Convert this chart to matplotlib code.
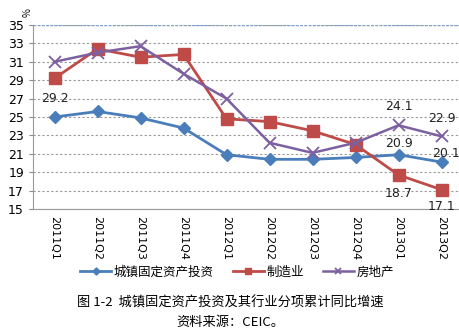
import matplotlib.pyplot as plt

plt.rcParams['font.family'] = ['Noto Sans CJK SC', 'DejaVu Sans']

quarters = ['2011Q1', '2011Q2', '2011Q3', '2011Q4', '2012Q1', '2012Q2',
            '2012Q3', '2012Q4', '2013Q1', '2013Q2']
fixed_asset = [25.0, 25.6, 24.9, 23.8, 20.9, 20.4, 20.4, 20.6, 20.9, 20.1]
manufacturing = [29.2, 32.4, 31.5, 31.8, 24.8, 24.5, 23.5, 22.0, 18.7, 17.1]
real_estate = [31.0, 32.0, 32.7, 29.7, 27.0, 22.2, 21.1, 22.2, 24.1, 22.9]
yticks = list(range(15, 36, 2))

fig = plt.figure(figsize=(4.6, 3.35), dpi=100)
ax = fig.add_axes([33 / 460, 1 - 209 / 335, 427 / 460, 184 / 335])

x = list(range(len(quarters)))
l1, = ax.plot(x, fixed_asset, color='#4A7EBB', lw=2, marker='D', ms=6,
              label='城镇固定资产投资')
l2, = ax.plot(x, manufacturing, color='#BE4B48', lw=2, marker='s', ms=8,
              label='制造业')
l3, = ax.plot(x, real_estate, color='#7D60A0', lw=1.8, marker='x', ms=8,
              mew=1.3, label='房地产')

ax.set_xlim(-0.5, 9.43)
ax.set_ylim(15, 35)
ax.set_yticks(yticks)
ax.set_xticks(x)
ax.set_xticklabels(quarters, rotation=-90, fontsize=8, family='DejaVu Sans')
ax.tick_params(axis='y', labelsize=9, length=3, color='#888888')
ax.tick_params(axis='x', length=0, pad=5)
for lab in ax.get_yticklabels():
    lab.set_family('DejaVu Sans')

ax.grid(axis='y', ls=(0, (2, 2)), color='#999999', lw=0.8)
ax.axhline(35, ls=(0, (2, 1)), color='#7FA2C8', lw=1)
for s in ['top', 'right']:
    ax.spines[s].set_visible(False)
ax.spines['left'].set_color('#999999')
ax.spines['bottom'].set_color('#999999')

# data labels
lab_kw = dict(fontsize=9, family='DejaVu Sans', ha='center', va='center', color='#222222')
ax.text(0, 27.0, '29.2', **lab_kw)
ax.text(8, 26.1, '24.1', **lab_kw)
ax.text(9, 24.8, '22.9', **lab_kw)
ax.text(8, 22.1, '20.9', **lab_kw)
ax.text(9.1, 21.0, '20.1', **lab_kw)
ax.text(8, 16.7, '18.7', **lab_kw)
ax.text(9, 15.3, '17.1', **lab_kw)

fig.text(28 / 460, 1 - 13 / 335, '%', rotation=90, fontsize=7, ha='center', va='center')

fig.legend(handles=[l1, l2, l3], loc='center', bbox_to_anchor=(237 / 460, 1 - 272 / 335),
           ncol=3, frameon=False, fontsize=9, handlelength=2.5, handletextpad=0.2,
           columnspacing=1.5, markerscale=0.6)

fig.text(0.5, 1 - 303 / 335, '图 1-2  城镇固定资产投资及其行业分项累计同比增速',
         ha='center', va='center', fontsize=9.5)
fig.text(0.5, 1 - 322 / 335, '资料来源：CEIC。', ha='center', va='center', fontsize=9.5)

fig.savefig('out.png', dpi=100)
